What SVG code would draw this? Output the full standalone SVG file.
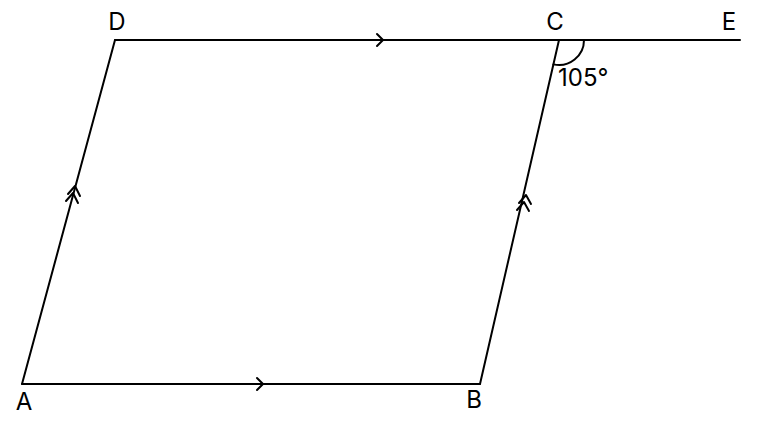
<svg xmlns="http://www.w3.org/2000/svg" width="758" height="425" viewBox="0 0 758 425">
<style>
.ln{stroke:#000;stroke-width:2;fill:none;stroke-linecap:round;stroke-linejoin:round}
.lb{font-family:Inter,"Liberation Sans",sans-serif;font-size:24px;fill:#000}
</style>
<rect width="758" height="425" fill="#fff"/>
<g id="connectors">
<path class="ln" d="M22,384 L480,384"/>
<path class="ln" d="M115,40 L740,40"/>
<path class="ln" d="M22,384 L115,40"/>
<path class="ln" d="M480,384 L559,40"/>
<path class="ln" d="M257,378 L263,384 L257,390"/>
<path class="ln" d="M377,34 L383,40 L377,46"/>
<path class="ln" d="M68,194 L75,186 L80,196"/>
<path class="ln" d="M66,201 L73,193 L78,203"/>
<path class="ln" d="M519,203 L526,195 L531,204"/>
<path class="ln" d="M517,210 L524,202 L529,211"/>
<path class="ln" d="M584,40 A25,25 0 0 1 553.4,64.4"/>
</g>
<g id="A"><text class="lb" x="24" y="410" text-anchor="middle">A</text></g>
<g id="B"><text class="lb" x="474" y="408" text-anchor="middle">B</text></g>
<g id="C"><text class="lb" x="555" y="30" text-anchor="middle">C</text></g>
<g id="D"><text class="lb" x="117" y="30" text-anchor="middle">D</text></g>
<g id="E"><text class="lb" x="729" y="30" text-anchor="middle">E</text></g>
<g id="angle"><text class="lb" x="558" y="86">105°</text></g>
</svg>
